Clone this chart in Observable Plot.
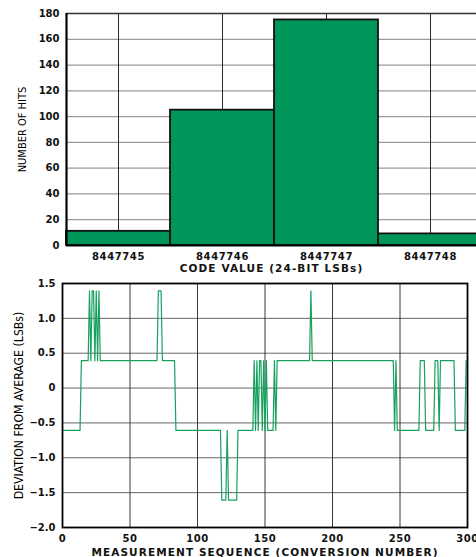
<!DOCTYPE html>
<html><head><meta charset="utf-8">
<script src="https://cdn.jsdelivr.net/npm/d3@7"></script>
<script src="https://cdn.jsdelivr.net/npm/@observablehq/plot@0.6"></script>
<style>
body{margin:0;background:#fff;overflow:hidden;width:476px;height:557px}
svg{display:block}
#top g[aria-label="x-axis tick label"] text, #bottom g[aria-label="x-axis tick label"] text{letter-spacing:0.6px}
.xtitle{letter-spacing:1.1px}
</style></head><body><div id="top"></div><div id="bottom"></div>
<script>
// Histogram: code value vs number of hits
const codes = [8447745, 8447746, 8447747, 8447748];
const hits = [11, 105, 175, 9];
const hitTicks = [0, 20, 40, 60, 80, 100, 120, 140, 160, 180];

// Measurement sequence, run-length encoded (code value, number of consecutive conversions)
const runCodes = [8447746, 8447747, 8447748, 8447747, 8447748, 8447747, 8447748, 8447747, 8447748, 8447747,
  8447748, 8447747, 8447746, 8447745, 8447746, 8447745, 8447746, 8447747, 8447746, 8447747,
  8447746, 8447747, 8447746, 8447747, 8447746, 8447747, 8447746, 8447747, 8447746, 8447747,
  8447748, 8447747, 8447746, 8447747, 8447746, 8447747, 8447746, 8447747, 8447746, 8447747,
  8447746, 8447747];
const runLengths = [14, 6, 1, 1, 2, 1, 1, 1, 1, 43,
  3, 10, 34, 4, 1, 7, 12, 1, 1, 1,
  1, 2, 1, 1, 1, 1, 5, 1, 1, 25,
  1, 61, 1, 1, 17, 4, 7, 3, 1, 11,
  8, 1];
const seqTicks = [0, 50, 100, 150, 200, 250, 300];
const devTicks = [-2, -1.5, -1, -0.5, 0, 0.5, 1, 1.5];

const FONT = "DejaVu Sans, Verdana, sans-serif";
const NARROW = "Liberation Sans Narrow, Arial Narrow, DejaVu Sans Condensed, sans-serif";

const histo = codes.map((c, i) => ({code: c, hits: hits[i]}));
const total = d3.sum(hits);
const average = d3.sum(histo, d => d.code * d.hits) / total;

const seq = [];
runCodes.forEach((c, k) => {
  for (let j = 0; j < runLengths[k]; j++) seq.push({n: seq.length, dev: c - average});
});

const histChart = Plot.plot({
  width: 476, height: 275,
  marginLeft: 66, marginRight: 0, marginTop: 13, marginBottom: 30,
  style: {fontFamily: FONT, fontWeight: "bold", fontSize: "10px", color: "#111", background: "#fff"},
  x: {type: "linear", domain: [codes[0] - 0.5, codes[0] - 0.5 + 410 / 104]},
  y: {domain: [0, 180]},
  marks: [
    Plot.ruleY(hitTicks.slice(1, -1), {stroke: "#9a9a9a", strokeWidth: 1.3}),
    Plot.ruleX(codes, {stroke: "#111", strokeWidth: 0.9}),
    Plot.rect(histo, {x1: d => d.code - 0.5, x2: d => d.code + 0.5, y1: 0, y2: "hits",
      fill: "#00965a", stroke: "#111", strokeWidth: 1.8}),
    Plot.ruleY([180], {stroke: "#333", strokeWidth: 1.3}),
    Plot.ruleY([0], {stroke: "#000", strokeWidth: 2.2}),
    Plot.ruleX([codes[0] - 0.5], {stroke: "#000", strokeWidth: 2.2}),
    Plot.axisX({ticks: codes, tickSize: 0, tickPadding: 7, tickFormat: d => String(d), label: null}),
    Plot.axisY({ticks: hitTicks, tickSize: 0, tickPadding: 7, tickFormat: d => String(d), label: null}),
    Plot.text(["CODE VALUE (24-BIT LSBs)"], {frameAnchor: "bottom", lineAnchor: "middle", textAnchor: "middle",
      dy: 23.5, fontSize: 10.5, fontWeight: "bold", className: "xtitle"}),
    Plot.text(["NUMBER OF HITS"], {frameAnchor: "left", textAnchor: "middle", lineAnchor: "middle",
      dx: -44, rotate: -90, fontSize: 11, fontFamily: NARROW, fontWeight: "normal", fill: "#000"})
  ]
});
document.getElementById("top").appendChild(histChart);

const seqChart = Plot.plot({
  width: 476, height: 282,
  marginLeft: 62, marginRight: 9, marginTop: 8, marginBottom: 30,
  style: {fontFamily: FONT, fontWeight: "bold", fontSize: "10px", color: "#111", background: "#fff"},
  x: {domain: [0, 300]},
  y: {domain: [-2, 1.5]},
  marks: [
    Plot.ruleY(devTicks.slice(1, -1), {stroke: "#666", strokeWidth: 1}),
    Plot.ruleX(seqTicks.slice(1, -1), {stroke: "#222", strokeWidth: 0.9}),
    Plot.line(seq, {x: "n", y: "dev", stroke: "#17a05e", strokeWidth: 1.2}),
    Plot.frame({stroke: "#000", strokeWidth: 1.8}),
    Plot.axisX({ticks: seqTicks, tickSize: 0, tickPadding: 7, tickFormat: d => String(d), label: null}),
    Plot.axisY({ticks: devTicks, tickSize: 0, tickPadding: 7,
      tickFormat: d => d === 0 ? "0" : d3.format(".1f")(d), label: null}),
    Plot.text(["MEASUREMENT SEQUENCE (CONVERSION NUMBER)"], {frameAnchor: "bottom", lineAnchor: "middle",
      textAnchor: "middle", dy: 25, fontSize: 10.5, fontWeight: "bold", className: "xtitle"}),
    Plot.text(["DEVIATION FROM AVERAGE (LSBs)"], {frameAnchor: "left", textAnchor: "middle", lineAnchor: "middle",
      dx: -43, rotate: -90, fontSize: 12.2, fontFamily: NARROW, fontWeight: "normal", fill: "#000"})
  ]
});
document.getElementById("bottom").appendChild(seqChart);
</script></body></html>
